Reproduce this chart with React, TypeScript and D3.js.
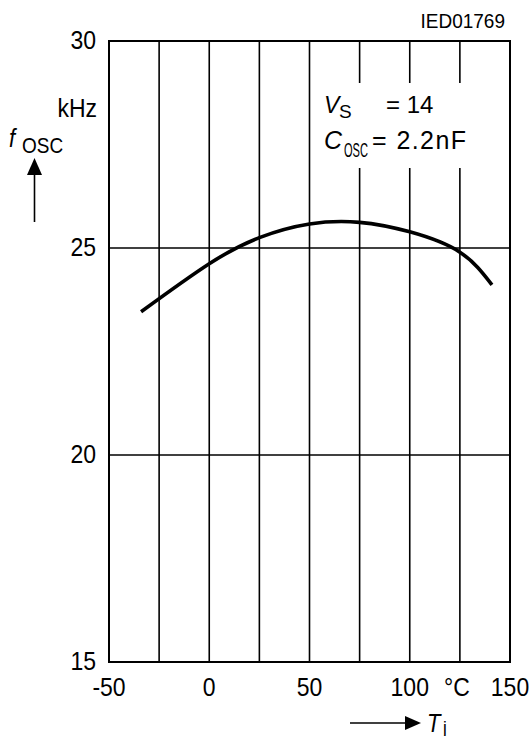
import * as d3 from 'd3';

// axis ticks
const tempGrid = [-50, -25, 0, 25, 50, 75, 100, 125, 150];
const tempLabels = [-50, 0, 50, 100, 150];
const freqGrid = [20, 25];
const freqLabels = [15, 20, 25, 30];

// f_OSC vs T_j
const curveTemp = [-34, 0, 25, 50, 75, 100, 125, 141];
const curveFreq = [23.46, 24.62, 25.25, 25.58, 25.62, 25.39, 24.9, 24.11];

const W = 532;
const H = 736;
const font = '"Liberation Sans", Arial, sans-serif';

// the source image is slightly stretched vertically
const Stretch = ({ x, y, s = 1.15, children, ...rest }: any) => (
  <text transform={`translate(${x},${y}) scale(1,${s})`} {...rest}>
    {children}
  </text>
);

export default function App() {
  const x = d3.scaleLinear().domain([-50, 150]).range([109, 510]);
  const y = d3.scaleLinear().domain([15, 30]).range([662, 41]);

  const pts = curveTemp.map((t, i) => [t, curveFreq[i]] as [number, number]);
  const line = d3
    .line<[number, number]>()
    .x((d) => x(d[0]))
    .y((d) => y(d[1]))
    .curve(d3.curveNatural);

  return (
    <svg
      width={W}
      height={H}
      style={{ position: 'absolute', left: 0, top: 0, background: '#fff' }}
      fontFamily={font}
    >
      {/* grid */}
      {tempGrid.slice(1, -1).map((t) => (
        <line key={t} x1={x(t)} x2={x(t)} y1={y(30)} y2={y(15)} stroke="#000" strokeWidth={1.6} />
      ))}
      {freqGrid.map((f) => (
        <line key={f} x1={x(-50)} x2={x(150)} y1={y(f)} y2={y(f)} stroke="#000" strokeWidth={1.3} />
      ))}

      {/* gap in the grid behind the annotation */}
      <rect x={340} y={83} width={140} height={85} fill="#fff" />

      <rect
        x={x(-50)}
        y={y(30)}
        width={x(150) - x(-50)}
        height={y(15) - y(30)}
        fill="none"
        stroke="#000"
        strokeWidth={2}
      />

      <path d={line(pts) ?? undefined} fill="none" stroke="#000" strokeWidth={3.6} />

      {/* y tick labels */}
      {freqLabels.map((f) => (
        <Stretch key={f} x={96} y={y(f) + 8} fontSize={23} textAnchor="end">
          {f}
        </Stretch>
      ))}
      {/* x tick labels */}
      {tempLabels.map((t) => (
        <Stretch key={t} x={x(t)} y={696} fontSize={23} textAnchor="middle">
          {t}
        </Stretch>
      ))}
      <Stretch x={444} y={696} fontSize={23}>
        °C
      </Stretch>

      <Stretch x={505} y={28} fontSize={19} textAnchor="end" s={1.1}>
        IED01769
      </Stretch>

      {/* y axis title */}
      <Stretch x={97} y={117} fontSize={23} textAnchor="end">
        kHz
      </Stretch>
      <Stretch x={9} y={147} fontSize={22} fontStyle="italic">
        f
      </Stretch>
      <Stretch x={22} y={153} fontSize={19}>
        OSC
      </Stretch>
      <polygon points="34.5,158 27,175 42,175" fill="#000" />
      <line x1={34.5} x2={34.5} y1={174} y2={222} stroke="#000" strokeWidth={1.6} />

      {/* x axis title */}
      <line x1={350} x2={407} y1={723} y2={723} stroke="#000" strokeWidth={1.6} />
      <polygon points="421,723 405,716 405,730" fill="#000" />
      <Stretch x={427} y={732} fontSize={22} fontStyle="italic">
        T
      </Stretch>
      <Stretch x={443} y={734} fontSize={17} s={1.05}>
        j
      </Stretch>

      {/* annotation */}
      <text x={324} y={113} fontSize={23} fontStyle="italic">
        V
      </text>
      <text x={339} y={118} fontSize={19}>
        S
      </text>
      <text x={386} y={113} fontSize={24}>
        = 14
      </text>
      <text x={324} y={149} fontSize={25} fontStyle="italic">
        C
      </text>
      <text x={344} y={157} fontSize={20} textLength={24} lengthAdjust="spacingAndGlyphs">
        OSC
      </text>
      <text x={372} y={149} fontSize={25} textLength={94} lengthAdjust="spacing">
        = 2.2nF
      </text>
    </svg>
  );
}
